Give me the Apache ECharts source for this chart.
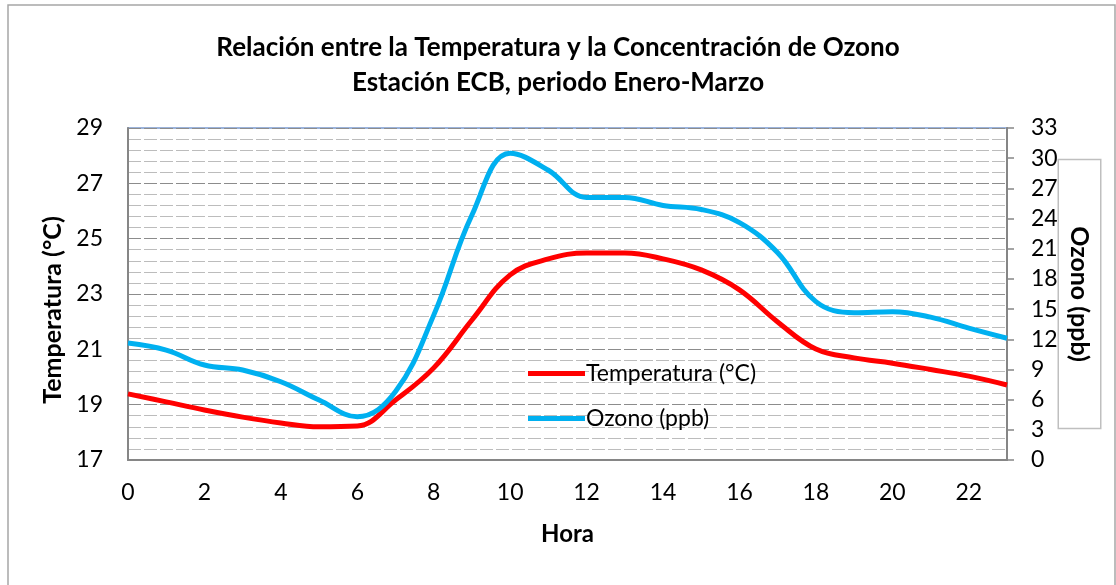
<!DOCTYPE html>
<html>
<head>
<meta charset="utf-8">
<script src="https://cdn.jsdelivr.net/npm/echarts@6/dist/echarts.min.js"></script>
<style>
  html, body { margin: 0; padding: 0; background: #fff; }
  #chart { width: 1116px; height: 585px; }
</style>
</head>
<body>
<div id="chart"></div>
<script>
// horas del dia
const horas = [0, 1, 2, 3, 4, 5, 6, 7, 8, 9, 10, 11, 12, 13, 14, 15, 16, 17, 18, 19, 20, 21, 22, 23];
// temperatura (°C), eje izquierdo
const temperatura = [19.39, 19.1, 18.81, 18.55, 18.34, 18.2, 18.23, 19.17, 20.33, 22.06, 23.69, 24.27,
  24.48, 24.48, 24.27, 23.87, 23.15, 21.99, 21.01, 20.69, 20.5, 20.27, 20.03, 19.71];
// ozono (ppb), eje derecho
const ozono = [11.63, 10.93, 9.44, 8.94, 7.78, 5.96, 4.3, 6.8, 14.4, 24.35, 30.5, 28.8,
  26.1, 26.1, 25.3, 24.9, 23.6, 20.6, 15.74, 14.64, 14.74, 14.2, 13.1, 12.1];

const fuente = 'Lato';

const chart = echarts.init(document.getElementById('chart'));

chart.setOption({
  animation: false,
  backgroundColor: '#fff',
  title: {
    text: 'Relación entre la Temperatura y la Concentración de Ozono\nEstación ECB, periodo Enero-Marzo',
    left: 'center',
    top: 25,
    textStyle: {
      fontFamily: fuente,
      fontSize: 26,
      fontWeight: 'bold',
      color: '#000',
      lineHeight: 35
    }
  },
  graphic: [{
    type: 'rect',
    shape: { x: 8, y: 5, width: 1107, height: 600 },
    style: { fill: null, stroke: '#a6a6a6', lineWidth: 1.5 },
    silent: true
  }],
  legend: {
    orient: 'vertical',
    left: 523,
    top: 357,
    itemWidth: 57,
    itemHeight: 5,
    itemGap: 22,
    icon: 'rect',
    textStyle: { fontFamily: fuente, fontSize: 23, color: '#000', padding: [0, 0, 0, -4] },
    data: ['Temperatura (°C)', 'Ozono (ppb)']
  },
  grid: {
    left: 128,
    right: 109,
    top: 128,
    bottom: 125,
    outerBoundsMode: 'none',
    containLabel: false,
    show: true,
    borderColor: '#7b9bd0',
    borderWidth: 1.5
  },
  xAxis: {
    type: 'value',
    min: 0,
    max: 23,
    interval: 2,
    name: 'Hora',
    nameLocation: 'middle',
    nameGap: 62,
    nameTextStyle: { fontFamily: fuente, fontSize: 24, fontWeight: 'bold', color: '#000' },
    axisLine: { show: true, lineStyle: { color: '#868686', width: 2 } },
    axisTick: { show: false },
    splitLine: { show: false },
    axisLabel: {
      fontFamily: fuente, fontSize: 23, color: '#000', margin: 21,
      showMaxLabel: false
    }
  },
  yAxis: [{
    type: 'value',
    position: 'left',
    min: 17,
    max: 29,
    interval: 2,
    name: 'Temperatura (°C)',
    nameLocation: 'middle',
    nameGap: 58,
    nameTextStyle: {
      fontFamily: fuente, fontSize: 25, fontWeight: 'bold', color: '#000',
      padding: [0, 32, 0, 0]
    },
    axisLine: { show: true, lineStyle: { color: '#868686', width: 2 } },
    axisTick: { show: false },
    axisLabel: { fontFamily: fuente, fontSize: 23, color: '#000', margin: 25 },
    splitLine: { show: true, lineStyle: { color: '#8c8c8c', type: [13, 3], width: 1.2 } },
    minorTick: { show: false, splitNumber: 5 },
    minorSplitLine: { show: true, lineStyle: { color: '#bcbcbc', type: [13, 3], width: 1.2 } }
  }, {
    type: 'value',
    position: 'right',
    min: 0,
    max: 33,
    interval: 3,
    name: 'Ozono (ppb)',
    nameLocation: 'middle',
    nameRotate: -90,
    nameGap: 52,
    nameMoveOverlap: false,
    nameTextStyle: {
      fontFamily: fuente, fontSize: 25, fontWeight: 'bold', color: '#000',
      borderColor: '#bfbfbf', borderWidth: 1.5, backgroundColor: '#fff',
      padding: [8, 66, 8, 66]
    },
    axisLine: { show: true, lineStyle: { color: '#868686', width: 2 } },
    axisTick: { show: true, inside: false, length: 7, lineStyle: { color: '#868686', width: 1.5 } },
    axisLabel: { fontFamily: fuente, fontSize: 23, color: '#000', margin: 24 },
    splitLine: { show: false }
  }],
  series: [{
    name: 'Temperatura (°C)',
    type: 'line',
    yAxisIndex: 0,
    data: horas.map((h, i) => [h, temperatura[i]]),
    smooth: 0.4,
    showSymbol: false,
    symbol: 'none',
    color: '#ff0000',
    lineStyle: { color: '#ff0000', width: 5 }
  }, {
    name: 'Ozono (ppb)',
    type: 'line',
    yAxisIndex: 1,
    data: horas.map((h, i) => [h, ozono[i]]),
    smooth: 0.4,
    showSymbol: false,
    symbol: 'none',
    color: '#00b0f0',
    lineStyle: { color: '#00b0f0', width: 5 }
  }]
});
</script>
</body>
</html>
